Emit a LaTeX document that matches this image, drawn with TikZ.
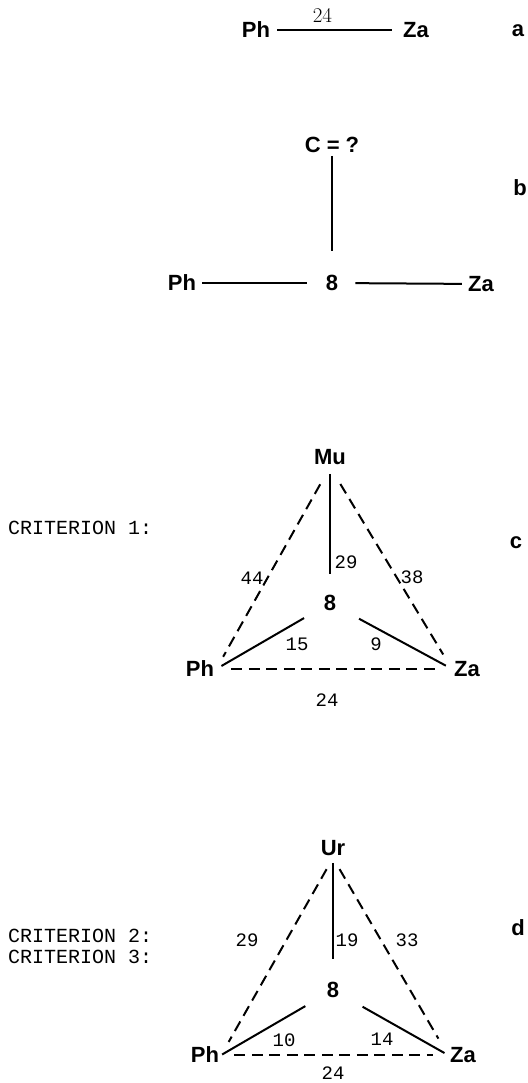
\documentclass[tikz,border=0pt]{standalone}
\usepackage{fontspec}
\setsansfont{Liberation Sans}
\setmonofont{Liberation Mono}
\usetikzlibrary{positioning,calc}
\tikzset{
	taxon/.style={font=\sffamily\bfseries\fontsize{22}{26}\selectfont, inner sep=2pt},
	tag/.style={font=\sffamily\bfseries\fontsize{22}{26}\selectfont, inner sep=0pt},
	crit/.style={font=\ttfamily\fontsize{20}{24}\selectfont, anchor=west, inner sep=0pt},
	wt/.style={font=\ttfamily\fontsize{19}{22}\selectfont, inner sep=0pt},
	link/.style={line width=2pt},
	dlink/.style={line width=2pt, dash pattern=on 11pt off 6.5pt}
}

\begin{document}
\begin{tikzpicture}[x=1pt,y=-1pt]
	\useasboundingbox (0,0) rectangle (527,1083);

	\node[taxon] (a-ph) at (256,30) {Ph};
	\node[taxon] (a-za) at (416,30) {Za};
	\draw[link, shorten <=5pt, shorten >=9pt] (a-ph) -- (a-za)
		node[pos=0.39, above=6pt, inner sep=0pt, font=\rmfamily\fontsize{21}{24}\selectfont] (a-w) {24};
	\node[tag] (a-tag) at (518,31) {a};

	\node[taxon] (b-c) at (332,145) {C = ?};
	\node[taxon] (b-8) at (332,283) {8};
	\node[taxon] (b-ph) at (182,283) {Ph};
	\node[taxon] (b-za) at (481,284) {Za};
	\draw[link, shorten <=1pt, shorten >=22pt] (b-c.south) -- (b-8.north);
	\draw[link, shorten <=4pt, shorten >=17pt] (b-ph) -- (b-8);
	\draw[link, shorten <=15pt, shorten >=4pt] (b-8) -- (b-za);
	\node[tag] (b-tag) at (520,188) {b};

	\node[crit] (c-crit) at (8,528) {CRITERION 1:};
	\node[taxon] (c-mu) at (330,457) {Mu};
	\node[taxon] (c-8) at (330,603) {8};
	\node[taxon] (c-ph) at (200,669) {Ph};
	\node[taxon] (c-za) at (467,669) {Za};
	\draw[link, shorten <=7pt, shorten >=19pt] (c-mu.south) -- (c-8.north);
	\draw[dlink, shorten <=20pt, shorten >=14pt] (c-mu.south) -- (c-ph.east);
	\draw[dlink, shorten <=20pt, shorten >=17pt] (c-mu.south) -- (c-za.west);
	\draw[dlink, shorten <=15pt, shorten >=14pt] (c-ph.east) -- (c-za.west);
	\draw[link, shorten <=6pt, shorten >=30pt] (c-ph.east) -- (c-8.center);
	\draw[link, shorten <=33pt, shorten >=7pt] (c-8.center) -- (c-za.west);
	\node[wt] (c-w1) at (346,562) {29};
	\node[wt] (c-w2) at (252,578) {44};
	\node[wt] (c-w3) at (412,577) {38};
	\node[wt] (c-w4) at (297,644) {15};
	\node[wt] (c-w5) at (376,644) {9};
	\node[wt] (c-w6) at (327,700) {24};
	\node[tag] (c-tag) at (516,543) {c};

	\node[crit] (d-crit2) at (8,936) {CRITERION 2:};
	\node[crit] (d-crit3) at (8,957) {CRITERION 3:};
	\node[taxon] (d-ur) at (333,848) {Ur};
	\node[taxon] (d-8) at (333,990) {8};
	\node[taxon] (d-ph) at (205,1055) {Ph};
	\node[taxon] (d-za) at (463,1055) {Za};
	\draw[link, shorten <=5pt, shorten >=21pt] (d-ur.south) -- (d-8.north);
	\draw[dlink, shorten <=13pt, shorten >=15pt] (d-ur.south) -- (d-ph.east);
	\draw[dlink, shorten <=13pt, shorten >=19pt] (d-ur.south) -- (d-za.west);
	\draw[dlink, shorten <=13pt, shorten >=15pt] (d-ph.east) -- (d-za.west);
	\draw[link, shorten <=1pt, shorten >=32pt] (d-ph.east) -- (d-8.center);
	\draw[link, shorten <=34pt, shorten >=4pt] (d-8.center) -- (d-za.west);
	\node[wt] (d-w1) at (347,940) {19};
	\node[wt] (d-w2) at (247,940) {29};
	\node[wt] (d-w3) at (407,940) {33};
	\node[wt] (d-w4) at (284,1040) {10};
	\node[wt] (d-w5) at (382,1039) {14};
	\node[wt] (d-w6) at (333,1073) {24};
	\node[tag] (d-tag) at (518,928) {d};
\end{tikzpicture}
\end{document}
